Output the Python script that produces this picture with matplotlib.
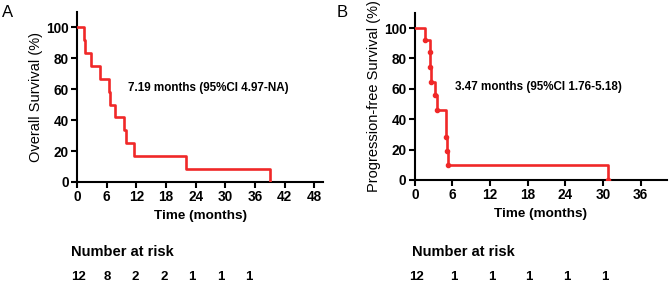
import matplotlib
matplotlib.use("Agg")
import matplotlib.pyplot as plt

plt.rcParams['font.family'] = ['Liberation Sans', 'DejaVu Sans']

# Panel A: overall survival (Kaplan-Meier steps)
os_times = [0, 1.4, 1.6, 2.8, 4.7, 6.4, 6.6, 7.6, 9.5, 10.0, 11.5, 22.0, 39.0]
os_surv = [100, 91.7, 83.3, 75.0, 66.7, 58.3, 50.0, 41.7, 33.3, 25.0, 16.7, 8.3, 0]
os_ticks = [0, 6, 12, 18, 24, 30, 36, 42, 48]
os_risk = [12, 8, 2, 2, 1, 1, 1]
os_text = "7.19 months (95%CI 4.97-NA)"

# Panel B: progression-free survival
pfs_times = [0, 1.7, 2.4, 2.5, 2.6, 3.3, 3.5, 5.0, 5.2, 5.3, 30.8]
pfs_surv = [100, 92.3, 84.0, 74.5, 64.8, 55.6, 46.2, 28.5, 19.0, 9.5, 0]
pfs_ticks = [0, 6, 12, 18, 24, 30, 36]
pfs_risk = [12, 1, 1, 1, 1, 1]
pfs_text = "3.47 months (95%CI 1.76-5.18)"

red = '#f02828'

fig = plt.figure(figsize=(6.69, 2.86), dpi=100)
axA = fig.add_axes([0.115, 0.364, 0.368, 0.594])
axB = fig.add_axes([0.620, 0.371, 0.377, 0.584])


def km_panel(ax, times, surv, ticks, xmax, ylabel, text, text_x, marks):
    ax.step(times, surv, where='post', color=red, lw=1.9, zorder=3)
    if marks:
        ax.plot(times[1:], surv[1:], 'o', color=red, ms=3, zorder=4)
    ax.set_xlim(0, xmax)
    ax.set_ylim(0, 110)
    ax.set_xticks(ticks)
    ax.set_yticks([0, 20, 40, 60, 80, 100])
    ax.spines['top'].set_visible(False)
    ax.spines['right'].set_visible(False)
    for s in ['left', 'bottom']:
        ax.spines[s].set_linewidth(1.5)
    ax.tick_params(width=1.5, length=4, labelsize=9.8, pad=2)
    for lab in ax.get_xticklabels() + ax.get_yticklabels():
        lab.set_fontweight('bold')
    ax.set_ylabel(ylabel, fontsize=10.5, labelpad=2)
    ax.set_xlabel('Time (months)', fontsize=9.7, fontweight='bold', labelpad=4)
    ax.text(text_x, 61, text, fontsize=8.4, fontweight='bold', va='center')


km_panel(axA, os_times, os_surv, os_ticks, 49.8, 'Overall Survival (%)',
         os_text, 10.3, False)
km_panel(axB, pfs_times, pfs_surv, pfs_ticks, 40.2, 'Progression-free Survival (%)',
         pfs_text, 6.4, True)

fig.text(0.003, 0.958, 'A', fontsize=12, va='center')
fig.text(0.503, 0.958, 'B', fontsize=12, va='center')

# number at risk rows
fig.text(71 / 669, 1 - 252 / 286, 'Number at risk', fontsize=10.5, fontweight='bold', va='center')
fig.text(412 / 669, 1 - 252 / 286, 'Number at risk', fontsize=10.5, fontweight='bold', va='center')

for ax, ticks, risk, scale in [(axA, os_ticks, os_risk, 0.96), (axB, pfs_ticks, pfs_risk, 1.0)]:
    for t, n in zip(ticks, risk):
        ax.annotate(str(n), xy=(t * scale, 0), xycoords=('data', 'axes fraction'),
                    xytext=(1, 1 - 277 / 286), textcoords=('offset points', 'figure fraction'),
                    ha='center', va='center', fontsize=9.5, fontweight='bold')

fig.savefig('out.png', dpi=100)
